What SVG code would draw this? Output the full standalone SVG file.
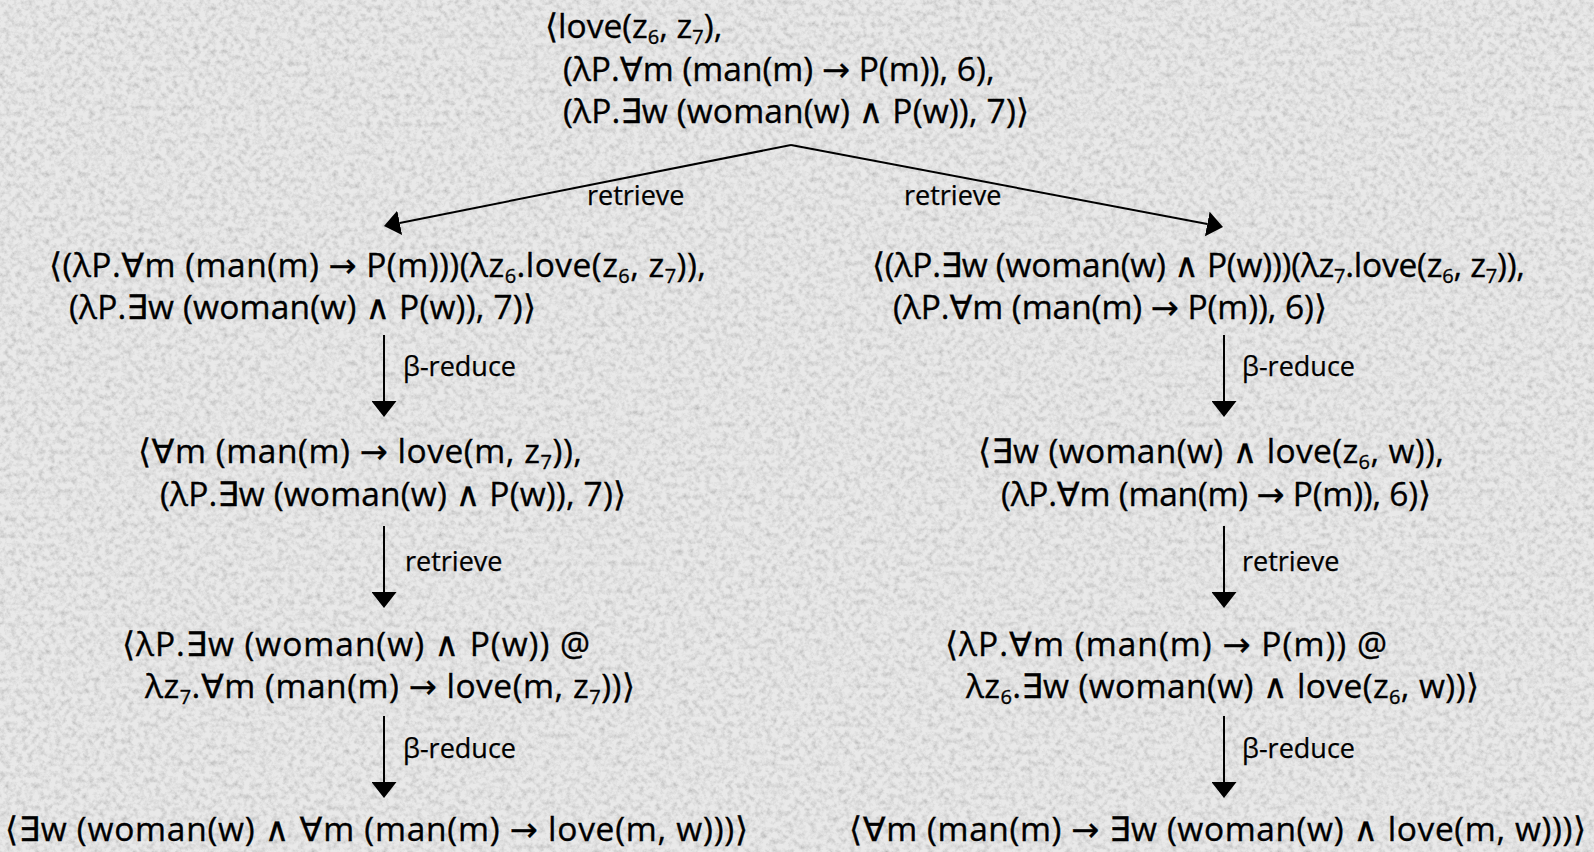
<svg xmlns="http://www.w3.org/2000/svg" width="1594" height="852" viewBox="0 0 1594 852">
<style>
.t{font-family:"Open Sans","DejaVu Sans",sans-serif;font-size:33.5px;fill:#000;stroke:#000;stroke-width:0.35}
.l{font-family:"Open Sans","DejaVu Sans",sans-serif;font-size:27px;fill:#000;stroke:#000;stroke-width:0.25}
.s{font-size:20px;baseline-shift:-6px}
.e{stroke:#000;stroke-width:2;fill:none}
</style>
<defs>
<filter id="grain" x="0" y="0" width="100%" height="100%">
<feTurbulence type="fractalNoise" baseFrequency="0.18" numOctaves="4" seed="7"/>
<feColorMatrix type="matrix" values="1.3 0 0 0 0.2  1.3 0 0 0 0.2  1.3 0 0 0 0.2  0 0 0 0 0.42"/>
</filter>
<marker id="ah" markerUnits="userSpaceOnUse" markerWidth="16" markerHeight="25" viewBox="0 0 16 25" refX="0" refY="12.5" orient="auto">
<path d="M0,0 L16,12.5 L0,25 Z" fill="#000"/>
</marker>
</defs>
<rect width="1594" height="852" fill="#d9d9d9"/>
<rect width="1594" height="852" filter="url(#grain)"/>

<g id="connectors">
<line class="e" x1="791" y1="145" x2="399.7" y2="222.9" marker-end="url(#ah)"/>
<line class="e" x1="791" y1="145" x2="1207.3" y2="224" marker-end="url(#ah)"/>
<line class="e" x1="384" y1="335" x2="384" y2="401" marker-end="url(#ah)"/>
<line class="e" x1="384" y1="526" x2="384" y2="592" marker-end="url(#ah)"/>
<line class="e" x1="384" y1="716" x2="384" y2="782" marker-end="url(#ah)"/>
<line class="e" x1="1224" y1="335" x2="1224" y2="401" marker-end="url(#ah)"/>
<line class="e" x1="1224" y1="526" x2="1224" y2="592" marker-end="url(#ah)"/>
<line class="e" x1="1224" y1="716" x2="1224" y2="782" marker-end="url(#ah)"/>
<text class="l" x="587" y="205">retrieve</text>
<text class="l" x="904" y="205">retrieve</text>
<text class="l" x="403" y="376">β-reduce</text>
<text class="l" x="1242" y="376">β-reduce</text>
<text class="l" x="405" y="571">retrieve</text>
<text class="l" x="1242" y="571">retrieve</text>
<text class="l" x="403" y="758">β-reduce</text>
<text class="l" x="1242" y="758">β-reduce</text>
</g>

<g id="n1">
<text class="t"><tspan x="545" y="38">⟨love(z<tspan class="s">6</tspan>, z<tspan class="s">7</tspan>),</tspan><tspan x="563" y="81">(λP.∀m (man(m) → P(m)), 6),</tspan><tspan x="563" y="123" textLength="466">(λP.∃w (woman(w) ∧ P(w)), 7)⟩</tspan></text>
</g>

<g id="n2l">
<text class="t"><tspan x="49" y="277" textLength="657">⟨(λP.∀m (man(m) → P(m)))(λz<tspan class="s">6</tspan>.love(z<tspan class="s">6</tspan>, z<tspan class="s">7</tspan>)),</tspan><tspan x="69" y="319" textLength="467">(λP.∃w (woman(w) ∧ P(w)), 7)⟩</tspan></text>
</g>

<g id="n2r">
<text class="t"><tspan x="872" y="277" textLength="653">⟨(λP.∃w (woman(w) ∧ P(w)))(λz<tspan class="s">7</tspan>.love(z<tspan class="s">6</tspan>, z<tspan class="s">7</tspan>)),</tspan><tspan x="893" y="319" textLength="434">(λP.∀m (man(m) → P(m)), 6)⟩</tspan></text>
</g>

<g id="n3l">
<text class="t"><tspan x="138" y="463" textLength="444">⟨∀m (man(m) → love(m, z<tspan class="s">7</tspan>)),</tspan><tspan x="160" y="506" textLength="466">(λP.∃w (woman(w) ∧ P(w)), 7)⟩</tspan></text>
</g>

<g id="n3r">
<text class="t"><tspan x="978" y="463" textLength="466">⟨∃w (woman(w) ∧ love(z<tspan class="s">6</tspan>, w)),</tspan><tspan x="1001" y="506" textLength="430">(λP.∀m (man(m) → P(m)), 6)⟩</tspan></text>
</g>

<g id="n4l">
<text class="t"><tspan x="122" y="656" textLength="468">⟨λP.∃w (woman(w) ∧ P(w)) @</tspan><tspan x="145" y="698" textLength="490">λz<tspan class="s">7</tspan>.∀m (man(m) → love(m, z<tspan class="s">7</tspan>))⟩</tspan></text>
</g>

<g id="n4r">
<text class="t"><tspan x="945" y="656" textLength="442">⟨λP.∀m (man(m) → P(m)) @</tspan><tspan x="966" y="698" textLength="513">λz<tspan class="s">6</tspan>.∃w (woman(w) ∧ love(z<tspan class="s">6</tspan>, w))⟩</tspan></text>
</g>

<g id="n5l">
<text class="t" x="5" y="841" textLength="743">⟨∃w (woman(w) ∧ ∀m (man(m) → love(m, w)))⟩</text>
</g>

<g id="n5r">
<text class="t" x="849" y="841" textLength="737">⟨∀m (man(m) → ∃w (woman(w) ∧ love(m, w)))⟩</text>
</g>
</svg>
